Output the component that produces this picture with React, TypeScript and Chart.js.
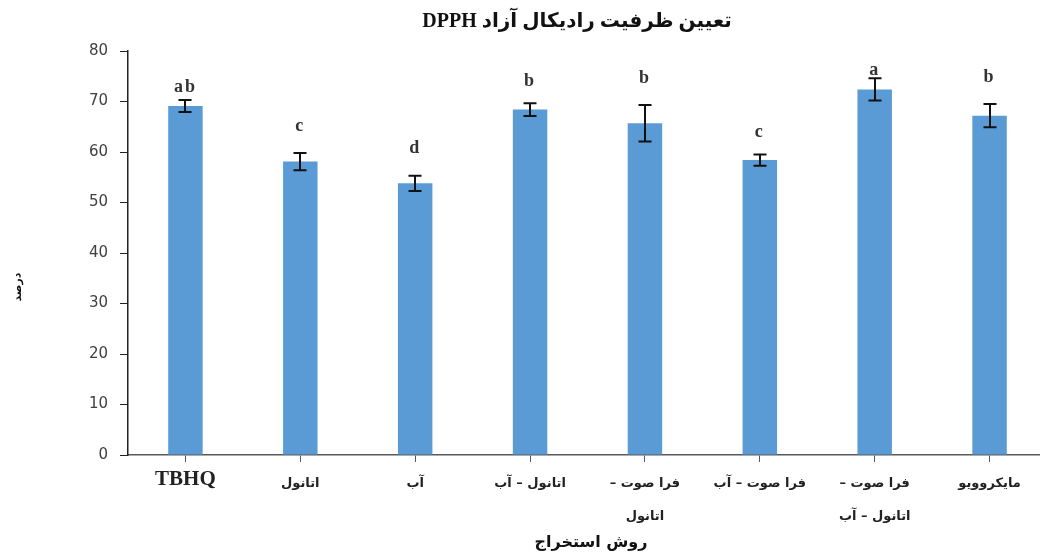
import React, { useEffect, useRef } from 'react';
import { Chart, registerables } from 'chart.js';

Chart.register(...registerables);

const categories: (string | string[])[] = [
  'TBHQ',
  'اتانول',
  'آب',
  'اتانول – آب',
  ['فرا صوت –', 'اتانول'],
  'فرا صوت – آب',
  ['فرا صوت –', 'اتانول – آب'],
  'مایکروویو',
];
const values = [69.1, 58.1, 53.8, 68.4, 65.7, 58.4, 72.4, 67.2];
const errors = [1.2, 1.7, 1.5, 1.25, 3.6, 1.1, 2.2, 2.3];
const letters = ['ab', 'c', 'd', 'b', 'b', 'c', 'a', 'b'];
const letterPos = [72.9, 65.1, 60.8, 73.9, 74.5, 63.8, 76.2, 74.7];
const yTicks = [0, 10, 20, 30, 40, 50, 60, 70, 80];

const titleText = 'تعیین ظرفیت رادیکال آزاد DPPH';
const xTitle = 'روش استخراج';
const yTitle = 'درصد';

const overlay = {
  id: 'overlay',
  afterDatasetsDraw(chart: any) {
    const ctx: CanvasRenderingContext2D = chart.ctx;
    const meta = chart.getDatasetMeta(0);
    const ys = chart.scales.y;
    ctx.save();
    // error bars
    ctx.strokeStyle = '#111';
    ctx.lineWidth = 2;
    meta.data.forEach((bar: any, i: number) => {
      const x = Math.round(bar.x);
      const yt = ys.getPixelForValue(values[i] + errors[i]);
      const yb = ys.getPixelForValue(values[i] - errors[i]);
      ctx.beginPath();
      ctx.moveTo(x, yt);
      ctx.lineTo(x, yb);
      ctx.moveTo(x - 6.5, yt);
      ctx.lineTo(x + 6.5, yt);
      ctx.moveTo(x - 6.5, yb);
      ctx.lineTo(x + 6.5, yb);
      ctx.stroke();
    });
    // letters
    ctx.fillStyle = '#333';
    ctx.font = 'bold 18px "Liberation Serif", serif';
    ctx.textAlign = 'center';
    ctx.textBaseline = 'middle';
    (ctx as any).direction = 'ltr';
    (ctx as any).letterSpacing = '2px';
    meta.data.forEach((bar: any, i: number) => {
      ctx.fillText(letters[i], bar.x, ys.getPixelForValue(letterPos[i]));
    });
    (ctx as any).letterSpacing = '0px';
    // titles
    (ctx as any).direction = 'rtl';
    ctx.fillStyle = '#111';
    ctx.font = 'bold 20px "Liberation Serif", "DejaVu Sans", serif';
    ctx.fillText(titleText, 577, 22);
    ctx.font = 'bold 16px "DejaVu Sans", sans-serif';
    ctx.fillText(xTitle, 591, 543);
    ctx.translate(18, 287);
    ctx.rotate(-Math.PI / 2);
    ctx.font = 'bold 11px "DejaVu Sans", sans-serif';
    ctx.fillText(yTitle, 0, 0);
    ctx.restore();
  },
};

export default function App() {
  const ref = useRef<HTMLCanvasElement>(null);
  useEffect(() => {
    if (!ref.current) return;
    const chart = new Chart(ref.current, {
      type: 'bar',
      data: {
        labels: categories as any,
        datasets: [
          {
            data: values,
            backgroundColor: '#5B9BD5',
            borderWidth: 0,
            categoryPercentage: 1,
            barPercentage: 0.3,
          },
        ],
      },
      options: {
        responsive: false,
        animation: false,
        layout: { padding: { top: 51, left: 0, right: 0, bottom: 0 } },
        plugins: {
          legend: { display: false },
          tooltip: { enabled: false },
          title: { display: false },
        },
        scales: {
          x: {
            grid: {
              display: true,
              drawOnChartArea: false,
              drawTicks: true,
              tickLength: 7,
              offset: false,
              color: '#595959',
            },
            border: { color: '#595959', width: 1.5 },
            ticks: {
              padding: 5,
              color: '#222',
              maxRotation: 0,
              autoSkip: false,
              font: (c: any) =>
                c.index === 0
                  ? { family: '"Liberation Serif", serif', size: 21, weight: 'bold' }
                  : { family: '"DejaVu Sans", sans-serif', size: 13, weight: 'bold', lineHeight: 2.55 },
            },
            afterFit: (s: any) => {
              s.height = 99;
            },
          },
          y: {
            min: 0,
            max: 80,
            afterBuildTicks: (s: any) => {
              s.ticks = yTicks.map((v) => ({ value: v }));
            },
            ticks: {
              padding: 12,
              color: '#404040',
              font: { family: '"DejaVu Sans", sans-serif', size: 15 },
            },
            grid: { drawOnChartArea: false, tickLength: 8, color: '#222' },
            border: { color: '#222', width: 1.5 },
            afterFit: (s: any) => {
              s.width = 128;
            },
          },
        },
      },
      plugins: [overlay],
    });
    return () => chart.destroy();
  }, []);
  return (
    <div style={{ position: 'fixed', left: 0, top: 0, width: 1040, height: 554, overflow: 'hidden', background: '#fff' }}>
      <canvas ref={ref} width={1047} height={554} dir="rtl" style={{ display: 'block' }} />
    </div>
  );
}
